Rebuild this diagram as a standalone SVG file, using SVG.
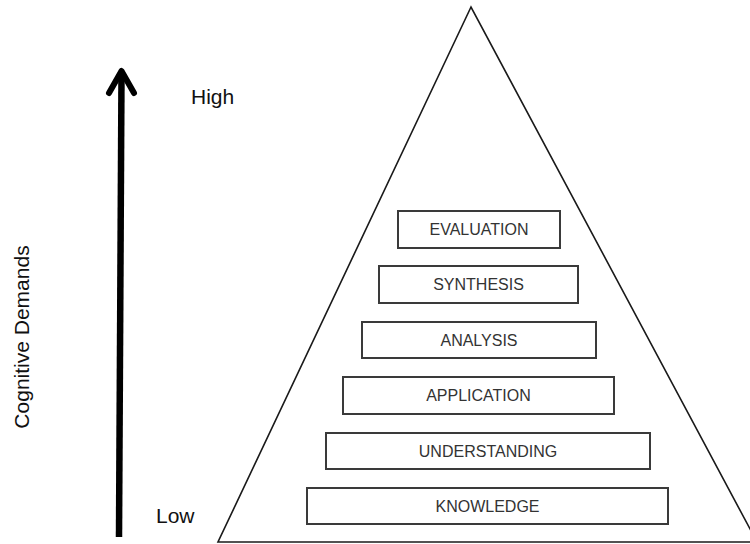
<svg xmlns="http://www.w3.org/2000/svg" width="750" height="544" viewBox="0 0 750 544">
<style>
.lvl rect{fill:#fff;stroke:#3a3a3a;stroke-width:2}
.lvl text{font-family:"Liberation Sans",Arial,sans-serif;font-size:16px;fill:#333;text-anchor:middle}
.lbl{font-family:"Liberation Sans",Arial,sans-serif;font-size:21px;fill:#111}
</style>
<rect width="750" height="544" fill="#fff"/>
<g id="pyramid">
<polygon points="471,7 218,542 757,542" fill="none" stroke="#1a1a1a" stroke-width="1.6"/>
</g>
<g id="connectors">
<line x1="119" y1="537" x2="121.5" y2="74" stroke="#000" stroke-width="6.5"/>
<polyline points="109,93 121.5,71 134,93" fill="none" stroke="#000" stroke-width="6" stroke-linecap="round" stroke-linejoin="round"/>
</g>
<g id="evaluation" class="lvl"><rect x="398" y="211" width="162" height="37"/><text x="479" y="235">EVALUATION</text></g>
<g id="synthesis" class="lvl"><rect x="379" y="266" width="199" height="37"/><text x="478.5" y="290">SYNTHESIS</text></g>
<g id="analysis" class="lvl"><rect x="362" y="322" width="234" height="36"/><text x="479" y="346">ANALYSIS</text></g>
<g id="application" class="lvl"><rect x="343" y="377" width="271" height="37"/><text x="478.5" y="401">APPLICATION</text></g>
<g id="understanding" class="lvl"><rect x="326" y="433" width="324" height="36"/><text x="488" y="457">UNDERSTANDING</text></g>
<g id="knowledge" class="lvl"><rect x="307" y="488" width="361" height="36"/><text x="487.5" y="512">KNOWLEDGE</text></g>
<text class="lbl" x="191" y="104">High</text>
<text class="lbl" x="156" y="523">Low</text>
<text class="lbl" font-size="23" text-anchor="middle" transform="translate(29,337) rotate(-90)">Cognitive Demands</text>
</svg>
